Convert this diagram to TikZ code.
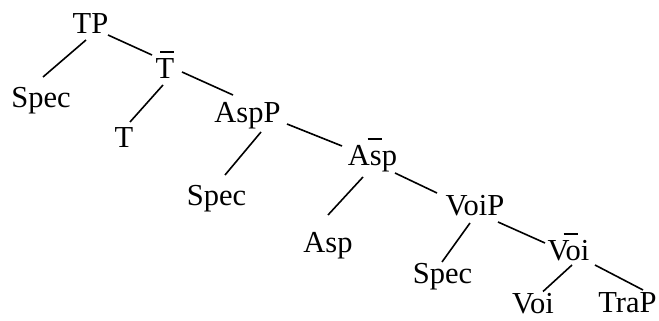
\documentclass[tikz,border=0pt]{standalone}
\usepackage{fontspec}
\setmainfont{Liberation Serif}
\tikzset{
  cat/.style={anchor=base, inner sep=0pt, text height=20pt, text depth=6pt,
    font=\fontsize{30.5}{35}\selectfont},
  barred/.style={label={[inner sep=0pt, text height=1.7pt, text depth=0pt,
    label distance=5pt, xshift=2pt]above:\rule{14pt}{1.7pt}}},
}
\begin{document}
\begin{tikzpicture}[x=1pt,y=-1pt]
      \useasboundingbox (0,0) rectangle (659,321);
      \draw
        (90.5,34) node[cat] (tp){TP}
        (165,78) node[cat,barred] (tbar){T}
        (41,107) node[cat] (spec1){Spec}
        (124,147) node[cat] (t){T}
        (247.5,122) node[cat] (aspp){AspP}
        (216.5,205) node[cat] (spec2){Spec}
        (372.5,165) node[cat,barred] (aspbar){Asp}
        (328,252) node[cat] (asp){Asp}
        (475,215) node[cat] (voip){VoiP}
        (442.5,283) node[cat] (spec3){Spec}
        (568.5,260) node[cat,barred] (voibar){Voi}
        (533,313.5) node[cat] (voi){Voi}
        (627.5,312) node[cat] (trap){TraP};
      \begin{scope}[-, line width=1.6pt]
        \draw ([shift={(-4.5,6)}]tp.base) to ([shift={(2,-30)}]spec1.base);
        \draw ([shift={(17.5,1)}]tp.base) to ([shift={(-13,-23)}]tbar.base);
        \draw ([shift={(-2,7)}]tbar.base) to ([shift={(6,-25)}]t.base);
        \draw ([shift={(17,-6)}]tbar.base) to ([shift={(-14.5,-27)}]aspp.base);
        \draw ([shift={(13.5,10)}]aspp.base) to ([shift={(8.5,-30)}]spec2.base);
        \draw ([shift={(39.5,2)}]aspp.base) to ([shift={(-30.5,-19)}]aspbar.base);
        \draw ([shift={(-9.5,12)}]aspbar.base) to ([shift={(0,-37)}]asp.base);
        \draw ([shift={(22.5,8)}]aspbar.base) to ([shift={(-38,-22)}]voip.base);
        \draw ([shift={(-5,8)}]voip.base) to ([shift={(-0.5,-21)}]spec3.base);
        \draw ([shift={(23,7)}]voip.base) to ([shift={(-23.5,-17)}]voibar.base);
        \draw ([shift={(3.5,5)}]voibar.base) to ([shift={(10,-22)}]voi.base);
        \draw ([shift={(26.5,5)}]voibar.base) to ([shift={(15.5,-22)}]trap.base);
      \end{scope}
    \end{tikzpicture}
\end{document}
